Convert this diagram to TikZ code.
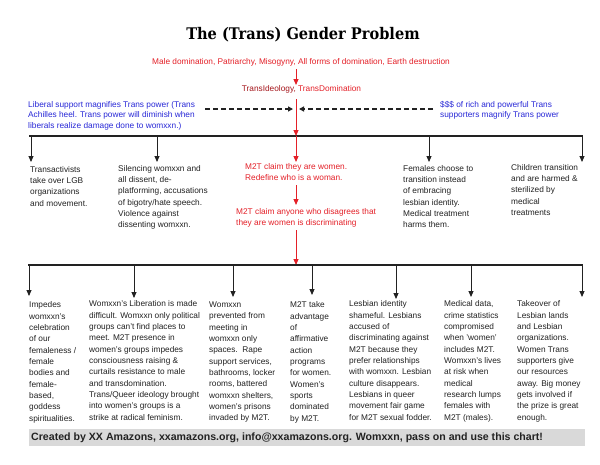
\documentclass[tikz,border=0pt]{standalone}
\usepackage{fontspec}
\setmainfont{Liberation Sans}
\newfontfamily\titlefont{DejaVu Serif}
\usetikzlibrary{arrows.meta}
\definecolor{tred}{RGB}{228,32,40}
\definecolor{dred}{RGB}{165,22,28}
\definecolor{tblue}{RGB}{40,40,215}
\definecolor{tblack}{RGB}{34,34,34}
\definecolor{barg}{RGB}{217,217,217}
\begin{document}
\begin{tikzpicture}[x=1pt,y=-1pt,
 txt/.style={anchor=north west, inner sep=0pt, align=left, text=tblack, font=\fontsize{8.3}{11.33}\selectfont},
 redtxt/.style={txt, text=tred, font=\fontsize{8.3}{11.5}\selectfont},
 bluetxt/.style={txt, text=tblue, font=\fontsize{8.3}{10.5}\selectfont},
 hbar/.style={line width=1.5pt, draw=tblack},
 arr/.style={line width=0.9pt, draw=tblack, -{Triangle[length=6pt,width=5pt]}},
 redarr/.style={line width=1pt, draw=tred, -{Triangle[length=6pt,width=5pt]}},
 dasharr/.style={line width=1.3pt, draw=tblack, dash pattern=on 5pt off 3pt, -{Triangle[length=5pt,width=5pt]}},
]
\useasboundingbox (0,0) rectangle (600,464);
\fill[white] (0,0) rectangle (600,464);

% title
\node[inner sep=0pt, text=black, font=\titlefont\bfseries\fontsize{16}{18}\selectfont] (title) at (303,35) {\scalebox{0.91}[1]{The (Trans) Gender Problem}};

% top red chain
\node[inner sep=0pt, text=tred, font=\fontsize{8.3}{10}\selectfont] (male) at (301,62) {Male domination, Patriarchy, Misogyny, All forms of domination, Earth destruction};
\node[inner sep=0pt, text=tred, font=\fontsize{8.3}{10}\selectfont] (ideo) at (301.5,89) {\textcolor{dred}{TransIdeology,} TransDomination};
\coordinate (r1s) at (296,69); \coordinate (r1e) at (296,85);
\draw[redarr] (r1s) -- (r1e);

% blue side notes
\node[bluetxt] (lib) at (28,101) {Liberal support magnifies Trans power (Trans\\Achilles heel. Trans power will diminish when\\liberals realize damage done to womxxn.)};
\node[bluetxt] (rich) at (440,101) {\$\$\$ of rich and powerful Trans\\supporters magnify Trans power};
\coordinate (dls) at (205,109); \coordinate (dle) at (293,109);
\coordinate (drs) at (433,109); \coordinate (dre) at (299,109);
\draw[dasharr] (dls) -- (dle);
\draw[dasharr] (drs) -- (dre);

% upper bar
\coordinate (ul) at (29,136); \coordinate (ur) at (583,136);
\draw[hbar] (ul) -- (ur);
\coordinate (r2s) at (296,99); \coordinate (r2e) at (296,136);
\draw[redarr] (r2s) -- (r2e);
\foreach \n/\x/\t in {a/31/162, b/157/162, c/429/162, d/582/162}{
  \coordinate (u\n s) at (\x,136); \coordinate (u\n e) at (\x,\t);
  \draw[arr] (u\n s) -- (u\n e);
}

% upper texts
\node[txt] (t1) at (30,166) {Transactivists\\take over LGB\\organizations\\and movement.};
\node[txt] (t2) at (118,165) {Silencing womxxn and\\all dissent, de-\\platforming, accusations\\of bigotry/hate speech.\\Violence against\\dissenting womxxn.};
\node[txt] (t3) at (403,165) {Females choose to\\transition instead\\of embracing\\lesbian identity.\\Medical treatment\\harms them.};
\node[txt] (t4) at (511,164) {Children transition\\and are harmed \&\\sterilized by\\medical\\treatments};

% middle red chain
\coordinate (r3s) at (296,136); \coordinate (r3e) at (296,162);
\draw[redarr] (r3s) -- (r3e);
\node[redtxt] (m1) at (245,163) {M2T claim they are women.\\Redefine who is a woman.};
\coordinate (r4s) at (296,185); \coordinate (r4e) at (296,205);
\draw[redarr] (r4s) -- (r4e);
\node[redtxt] (m2) at (236,208) {M2T claim anyone who disagrees that\\they are women is discriminating};
\coordinate (r5s) at (296,230); \coordinate (r5e) at (296,265);
\draw[redarr] (r5s) -- (r5e);

% lower bar
\coordinate (ll) at (28,265); \coordinate (lr) at (583,265);
\draw[hbar] (ll) -- (lr);
\foreach \n/\x/\t in {a/29/296, b/134/298, c/233/297, d/312/295, e/396/299, f/471/297, g/582/297}{
  \coordinate (l\n s) at (\x,265); \coordinate (l\n e) at (\x,\t);
  \draw[arr] (l\n s) -- (l\n e);
}

% lower texts
\node[txt] (b1) at (29,301.5) {Impedes\\womxxn's\\celebration\\of our\\femaleness /\\female\\bodies and\\female-\\based,\\goddess\\spiritualities.};
\node[txt] (b2) at (89,300.5) {Womxxn's Liberation is made\\difficult. Womxxn only political\\groups can't find places to\\meet. M2T presence in\\women's groups impedes\\consciousness raising \&\\curtails resistance to male\\and transdomination.\\Trans/Queer ideology brought\\into women's groups is a\\strike at radical feminism.};
\node[txt] (b3) at (209,301.5) {Womxxn\\prevented from\\meeting in\\womxxn only\\spaces.\ \ Rape\\support services,\\bathrooms, locker\\rooms, battered\\womxxn shelters,\\women's prisons\\invaded by M2T.};
\node[txt] (b4) at (290,301.5) {M2T take\\advantage\\of\\affirmative\\action\\programs\\for women.\\Women's\\sports\\dominated\\by M2T.};
\node[txt] (b5) at (349,300.5) {Lesbian identity\\shameful. Lesbians\\accused of\\discriminating against\\M2T because they\\prefer relationships\\with womxxn. Lesbian\\culture disappears.\\Lesbians in queer\\movement fair game\\for M2T sexual fodder.};
\node[txt] (b6) at (444,300.5) {Medical data,\\crime statistics\\compromised\\when 'women'\\includes M2T.\\Womxxn's lives\\at risk when\\medical\\research lumps\\females with\\M2T (males).};
\node[txt] (b7) at (517,300.5) {Takeover of\\Lesbian lands\\and Lesbian\\organizations.\\Women Trans\\supporters give\\our resources\\away. Big money\\gets involved if\\the prize is great\\enough.};

% footer
\node[fill=barg, anchor=north west, inner sep=0pt, minimum width=556pt, minimum height=17pt] (footbar) at (29,429) {};
\node[anchor=west, inner sep=0pt, text=tblack, font=\bfseries\fontsize{10.6}{12}\selectfont] (foot) at (31,437.5) {Created by XX Amazons, xxamazons.org, info@xxamazons.org. Womxxn, pass on and use this chart!};
\end{tikzpicture}
\end{document}
